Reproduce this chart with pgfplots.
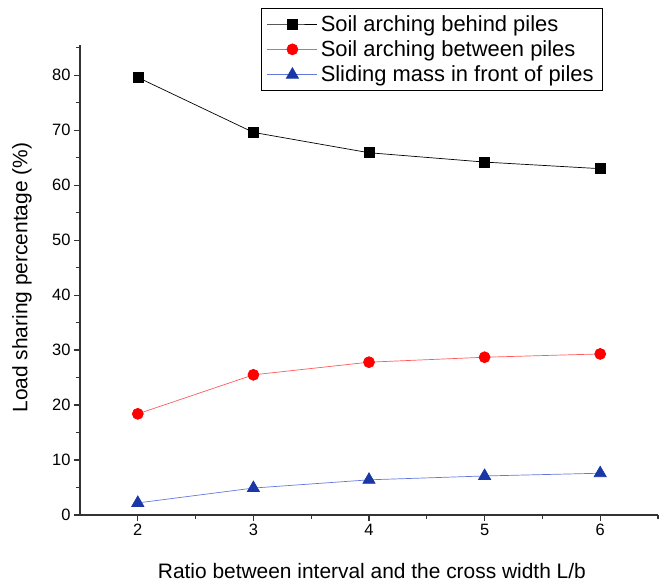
\documentclass[border=0pt]{standalone}
\usepackage{pgfplots}
\pgfplotsset{compat=1.18}
\usepackage{fontspec}
\setmainfont{Liberation Sans}
\definecolor{redline}{RGB}{255,90,90}
\definecolor{bluel}{RGB}{100,120,220}
\definecolor{bluem}{RGB}{25,55,165}
\begin{document}
\begin{tikzpicture}
\useasboundingbox (0,0) rectangle (663bp,583bp);
\begin{axis}[
  at={(80bp,68bp)}, anchor=south west,
  scale only axis, width=578bp, height=470bp,
  xmin=1.5, xmax=6.5, ymin=0, ymax=85.5,
  axis x line*=bottom, axis y line*=left,
  axis line style={-, line width=1.2pt, black!80},
  tick align=outside,
  major tick length=6bp, minor tick length=4bp,
  tick style={line width=1.2pt, black!80},
  xtick={2,3,4,5,6}, ytick={0,10,...,80},
  minor xtick={2.5,3.5,4.5,5.5,6.5}, minor ytick={5,15,...,85},
  every tick label/.append style={font=\fontsize{16.5}{18}\selectfont},
  /pgf/number format/assume math mode=true,
  xlabel={Ratio between interval and the cross width L/b},
  ylabel={Load sharing percentage (\%)},
  label style={font=\fontsize{21}{24}\selectfont},
  xlabel style={at={(axis description cs:0.505,0)}, anchor=base, yshift=-63bp},
  ylabel style={at={(axis description cs:-0.1003,0.505)}, anchor=center},
  legend style={at={(0.905,1.079)}, anchor=north east,
    font=\fontsize{22}{25}\selectfont, draw=black, line width=0.9pt,
    row sep=4bp, inner xsep=6bp, inner ysep=5bp,
    nodes={inner xsep=3bp}},
  legend cell align=left,
  legend image code/.code={\draw[mark repeat=2,mark phase=2] plot coordinates {(0bp,0bp) (25bp,0bp) (50bp,0bp)};},
]
\addplot[black, line width=0.7pt, mark=square*, mark size=5bp, mark options={solid, fill=black, line width=0.5pt}]
  coordinates {(2,79.6) (3,69.6) (4,65.9) (5,64.2) (6,63.0)};
\addlegendentry{Soil arching behind piles}
\addplot[redline, line width=0.7pt, mark=*, mark size=5.5bp, mark options={fill=red, draw=red}]
  coordinates {(2,18.4) (3,25.5) (4,27.8) (5,28.7) (6,29.3)};
\addlegendentry{Soil arching between piles}
\addplot[bluel, line width=0.7pt, mark=triangle*, mark size=7bp, mark options={fill=bluem, draw=bluem}]
  coordinates {(2,2.2) (3,4.9) (4,6.4) (5,7.1) (6,7.6)};
\addlegendentry{Sliding mass in front of piles}
\end{axis}
\end{tikzpicture}
\end{document}
